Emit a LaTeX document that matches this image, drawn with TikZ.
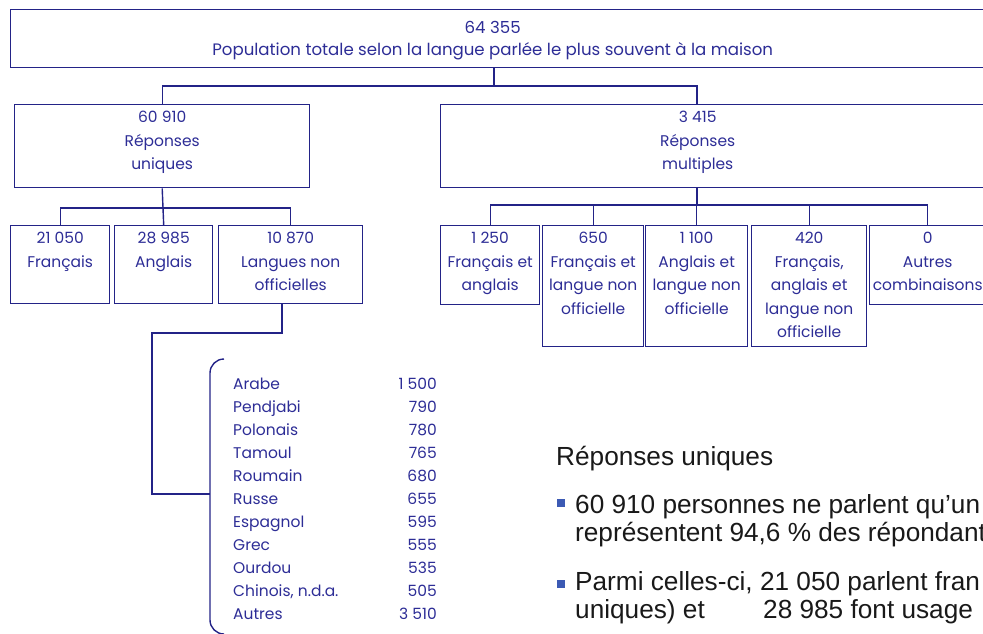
\documentclass[tikz,border=0pt]{standalone}
\usepackage{fontspec}
\setmainfont{Poppins}
\newfontfamily\notefont{Liberation Sans}
\usetikzlibrary{positioning,calc}
\definecolor{linenavy}{RGB}{35,35,135}
\definecolor{textnavy}{RGB}{45,45,150}
\definecolor{bulletblue}{RGB}{60,90,180}
\definecolor{notegray}{RGB}{25,25,25}

\tikzset{
  box/.style={draw=linenavy, line width=1.4pt, anchor=north west, inner sep=0pt},
  boxtxt/.style={anchor=north, align=center, text=textnavy, inner sep=0pt,
    yshift=-7pt, font=\fontsize{15.5}{23.5}\selectfont},
  link/.style={draw=linenavy, line width=1.4pt},
  langname/.style={anchor=base west, text=textnavy, inner sep=0pt,
    font=\fontsize{15.5}{18}\selectfont},
  langval/.style={anchor=base east, text=textnavy, inner sep=0pt,
    font=\fontsize{15.5}{18}\selectfont},
  note/.style={anchor=base west, text=notegray, inner sep=0pt,
    font=\notefont\fontsize{26.2}{30}\selectfont},
}

\begin{document}
\begin{tikzpicture}[x=1pt, y=-1pt]
  \useasboundingbox (0,0) rectangle (983,634);
  \clip (0,0) rectangle (983,634);

  % --- Total ---
  \node[box, minimum width=1000, minimum height=58,
        label={[boxtxt, yshift=-5pt, xshift=-18pt, font=\fontsize{16.6}{22}\selectfont]north:64 355\\Population totale selon la langue parlée le plus souvent à la maison}]
    (total) at (10,9) {};

  % --- Single / multiple responses ---
  \node[box, minimum width=295, minimum height=83,
        label={[boxtxt]north:60 910\\Réponses\\uniques}] (uniq) at (14,104) {};
  \node[box, minimum width=600, minimum height=83,
        label={[boxtxt, xshift=-43pt]north:3 415\\Réponses\\multiples}] (multi) at (440,104) {};

  % --- Single responses ---
  \node[box, minimum width=99, minimum height=78,
        label={[boxtxt]north:21 050\\Français}] (fr) at (10,225) {};
  \node[box, minimum width=98, minimum height=78,
        label={[boxtxt]north:28 985\\Anglais}] (an) at (114,225) {};
  \node[box, minimum width=144, minimum height=78,
        label={[boxtxt]north:10 870\\Langues non\\officielles}] (lno) at (218,225) {};

  % --- Multiple responses ---
  \node[box, minimum width=99, minimum height=79,
        label={[boxtxt]north:1 250\\Français et\\anglais}] (fran) at (440,225) {};
  \node[box, minimum width=101, minimum height=121,
        label={[boxtxt]north:650\\Français et\\langue non\\officielle}] (frnon) at (542,225) {};
  \node[box, minimum width=102, minimum height=121,
        label={[boxtxt]north:1 100\\Anglais et\\langue non\\officielle}] (annon) at (645,225) {};
  \node[box, minimum width=115, minimum height=121,
        label={[boxtxt]north:420\\Français,\\anglais et\\langue non\\officielle}] (franon) at (751,225) {};
  \node[box, minimum width=116, minimum height=79,
        label={[boxtxt]north:0\\Autres\\combinaisons}] (autres) at (869,225) {};

  % --- Connectors ---
  \coordinate (topbus) at (494,86);
  \coordinate (mdrop) at (697,205);
  \coordinate (ldrop) at (282,333);
  \coordinate (brk) at (210,494);

  \draw[link] (topbus |- total.south) -- (topbus);
  \draw[link] (uniq.north) |- (topbus) -| (mdrop |- multi.north);

  \draw[link] (uniq.south) -- (an.north);
  \draw[link] (fr.north) -- ++(0,-17) -| (lno.north);

  \draw[link] (mdrop |- multi.south) -- (mdrop);
  \draw[link] (fran.north) |- (mdrop) -| (autres.north);
  \draw[link] (frnon.north) -- (frnon.north |- mdrop);
  \draw[link] (annon.north) -- (annon.north |- mdrop);
  \draw[link] (franon.north) -- (franon.north |- mdrop);

  \draw[link] (ldrop |- lno.south) -- (ldrop) -- (152,333) |- (brk);

  % --- Bracket ---
  \draw[link, rounded corners=14pt] (224,359) -- (210,359) -- (210,634) -- (224,634);

  % --- Non-official languages ---
  \foreach \nm/\val [count=\i from 0] in {Arabe/1 500, Pendjabi/790, Polonais/780,
      Tamoul/765, Roumain/680, Russe/655, Espagnol/595, Grec/555, Ourdou/535,
      {Chinois, n.d.a.}/505, Autres/3 510} {
    \node[langname] (lang\i) at (233,{389+23*\i}) {\nm};
    \node[langval] (val\i) at (437,{389+23*\i}) {\val};
  }

  % --- Notes ---
  \node[note] (ntitle) at (556,465) {Réponses uniques};
  \fill[bulletblue] (557,499) rectangle (565,507);
  \node[note] (n1) at (575,513) {60 910 personnes ne parlent qu’un};
  \node[note] (n2) at (575,541) {représentent 94,6 \% des répondant};
  \fill[bulletblue] (557,580) rectangle (565,588);
  \node[note] (n3) at (575,590) {Parmi celles-ci, 21 050 parlent fran};
  \node[note] (n4) at (575,618) {uniques) et};
  \node[note] (n5) at (763,618) {28 985 font usage};

\end{tikzpicture}
\end{document}
